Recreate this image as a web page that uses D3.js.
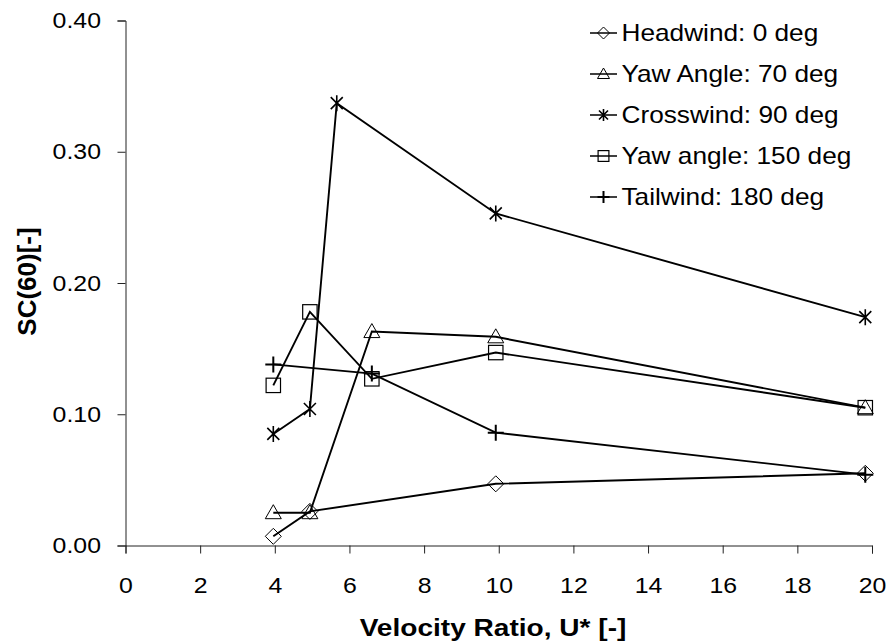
<!DOCTYPE html>
<html>
<head>
<meta charset="utf-8">
<script src="https://cdn.jsdelivr.net/npm/d3@7"></script>
<style>
html,body{margin:0;padding:0;background:#fff;}
svg{display:block;font-family:"Liberation Sans",Arial,sans-serif;}
</style>
</head>
<body>
<svg id="chart" width="889" height="644"></svg>
<script>
// ---- data ----
const seriesNames = ["Headwind: 0 deg","Yaw Angle: 70 deg","Crosswind: 90 deg","Yaw angle: 150 deg","Tailwind: 180 deg"];
const seriesMarkers = ["diamond","triangle","asterisk","square","plus"];
const headX = [3.96, 4.94, 9.92, 19.82];
const headY = [0.007, 0.026, 0.047, 0.055];
const yaw70X = [3.96, 4.94, 6.6, 9.92, 19.82];
const yaw70Y = [0.025, 0.025, 0.163, 0.159, 0.105];
const crossX = [3.96, 4.94, 5.66, 9.92, 19.82];
const crossY = [0.085, 0.104, 0.337, 0.253, 0.174];
const yaw150X = [3.96, 4.94, 6.6, 9.92, 19.82];
const yaw150Y = [0.122, 0.178, 0.127, 0.147, 0.105];
const tailX = [3.96, 6.6, 9.92, 19.82];
const tailY = [0.138, 0.131, 0.086, 0.054];
const xTicks = [0,2,4,6,8,10,12,14,16,18,20];
const yTicks = [0,0.1,0.2,0.3,0.4];
const xTitle = "Velocity Ratio, U* [-]";
const yTitle = "SC(60)[-]";

const seriesX = [headX, yaw70X, crossX, yaw150X, tailX];
const seriesY = [headY, yaw70Y, crossY, yaw150Y, tailY];

const svg = d3.select("#chart");
const x = d3.scaleLinear().domain([0,20]).range([125.5, 872]);
const y = d3.scaleLinear().domain([0,0.4]).range([545.5, 20.5]);
const SX = 1.13; // horizontal glyph stretch seen in the reference

// axes
const xAxis = svg.append("g").attr("transform","translate(0,545.5)")
  .call(d3.axisBottom(x).tickValues(xTicks).tickSize(8).tickPadding(24).tickFormat(d3.format("d")));
const yAxis = svg.append("g").attr("transform","translate(125.5,0)")
  .call(d3.axisLeft(y).tickValues(yTicks).tickSize(8).tickPadding(16.5).tickFormat(d3.format(".2f")));
[xAxis,yAxis].forEach(a=>{
  a.select(".domain").attr("stroke","#222").attr("stroke-width",1);
  a.selectAll(".tick line").attr("stroke","#222").attr("stroke-width",1);
  a.selectAll(".tick text").attr("font-size",22).attr("fill","#000")
   .attr("font-family","'Liberation Sans', Arial, sans-serif");
});
xAxis.selectAll(".tick text").attr("dy","0.71em").attr("transform",`scale(${SX},1)`);
yAxis.selectAll(".tick text").each(function(){
  const t = d3.select(this);
  const xv = +t.attr("x");
  t.attr("x",0).attr("transform",`translate(${xv},0) scale(${SX},1)`);
});

// titles
svg.append("text").attr("transform","translate(493,636) scale(1.17,1)").attr("text-anchor","middle")
  .attr("font-size",24).attr("font-weight","bold").text(xTitle);
svg.append("text").attr("transform","translate(36,281.5) rotate(-90)").attr("text-anchor","middle")
  .attr("font-size",26).attr("font-weight","bold").text(yTitle);

// marker drawing
function drawMarker(g, type, cx, cy, s){
  const h = s/2;
  if(type==="diamond"){
    g.append("path").attr("d",`M${cx},${cy-h}L${cx+h},${cy}L${cx},${cy+h}L${cx-h},${cy}Z`)
     .attr("stroke","#000").attr("fill","none").attr("stroke-width",1);
  } else if(type==="triangle"){
    g.append("path").attr("d",`M${cx},${cy-h}L${cx+h},${cy+h*0.75}L${cx-h},${cy+h*0.75}Z`)
     .attr("stroke","#000").attr("fill","none").attr("stroke-width",1);
  } else if(type==="square"){
    const a = h*0.9;
    g.append("rect").attr("x",cx-a).attr("y",cy-a).attr("width",2*a).attr("height",2*a)
     .attr("stroke","#000").attr("fill","none").attr("stroke-width",1.2);
  } else if(type==="asterisk"){
    const a = h*0.75;
    g.append("path").attr("d",`M${cx-a},${cy-a}L${cx+a},${cy+a}M${cx-a},${cy+a}L${cx+a},${cy-a}M${cx},${cy-h}L${cx},${cy+h}`)
     .attr("stroke","#000").attr("fill","none").attr("stroke-width",1.6);
  } else if(type==="plus"){
    g.append("path").attr("d",`M${cx-h},${cy}L${cx+h},${cy}M${cx},${cy-h}L${cx},${cy+h}`)
     .attr("stroke","#000").attr("fill","none").attr("stroke-width",2);
  }
}

// series
const line = d3.line().x(d=>x(d[0])).y(d=>y(d[1]));
seriesNames.forEach((name,i)=>{
  const pts = seriesX[i].map((v,j)=>[v, seriesY[i][j]]);
  const g = svg.append("g");
  g.append("path").attr("d",line(pts)).attr("fill","none").attr("stroke","#000").attr("stroke-width",1.9);
  pts.forEach(p=>drawMarker(g, seriesMarkers[i], x(p[0]), y(p[1]), 16));
});

// legend
const lg = svg.append("g");
seriesNames.forEach((name,i)=>{
  const cy = 33 + i*41;
  lg.append("line").attr("x1",590).attr("x2",617).attr("y1",cy).attr("y2",cy)
    .attr("stroke","#000").attr("stroke-width",1.5);
  drawMarker(lg, seriesMarkers[i], 603.5, cy, 12);
  lg.append("text").attr("transform",`translate(621.5,${cy}) scale(1.14,1)`).attr("dy","0.36em")
    .attr("font-size",23).text(name);
});
</script>
</body>
</html>
